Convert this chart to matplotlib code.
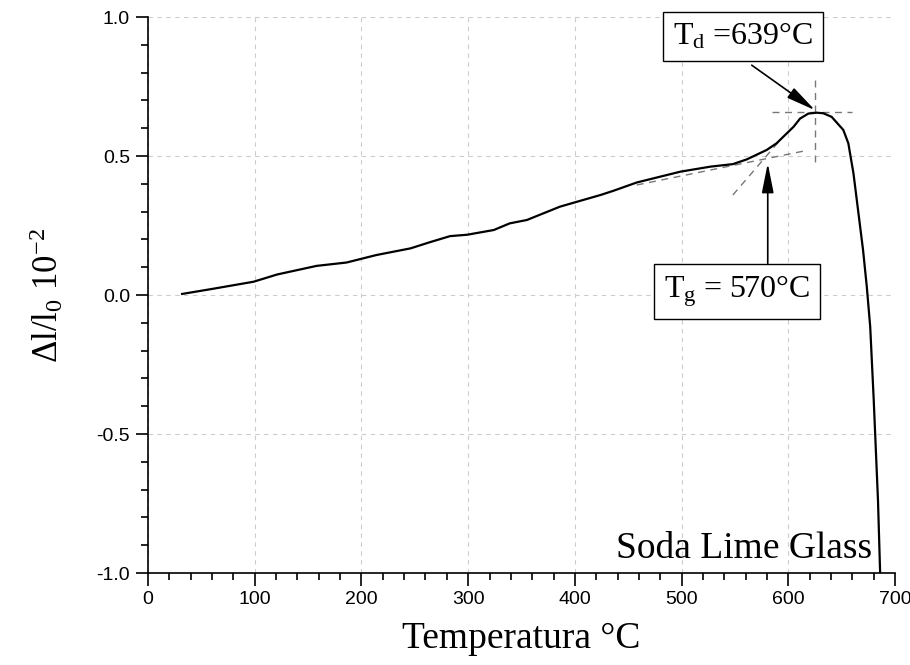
import matplotlib
matplotlib.use("Agg")
import matplotlib.pyplot as plt
from matplotlib.ticker import MultipleLocator

plt.rcParams["mathtext.fontset"] = "custom"
plt.rcParams["mathtext.rm"] = "Liberation Serif"
plt.rcParams["mathtext.it"] = "Liberation Serif:italic"

# dilatometric curve
temp = [32, 60, 99, 121, 158, 186, 214, 246, 264, 283, 299, 324, 339, 355,
        386, 424, 436, 458, 480, 499, 527, 548, 561, 579.7, 589, 597, 604.8,
        611, 618.8, 626.6, 632.8, 640.6, 645, 651.5, 656.2, 661, 665.7, 670,
        673.5, 676.7, 680, 684, 686]
dl = [0.004, 0.022, 0.048, 0.074, 0.105, 0.117, 0.144, 0.168, 0.19, 0.212,
      0.217, 0.234, 0.258, 0.27, 0.318, 0.36, 0.375, 0.405, 0.426, 0.444,
      0.462, 0.471, 0.488, 0.522, 0.546, 0.576, 0.605, 0.635, 0.653, 0.656,
      0.654, 0.641, 0.622, 0.594, 0.546, 0.438, 0.294, 0.162, 0.03, -0.114,
      -0.378, -0.74, -1.0]

# construction lines
tan1_x = [458, 617]
tan1_y = [0.396, 0.52]
tan2_x = [548, 590.8]
tan2_y = [0.36, 0.551]
peak_vx = [625.1, 625.1]
peak_vy = [0.773, 0.474]
peak_hx = [584.5, 659.5]
peak_hy = [0.659, 0.659]

serif = "Liberation Serif"

fig = plt.figure(figsize=(9.1, 6.65), dpi=100)
ax = fig.add_axes([0.1626, 0.1383, 0.821, 0.836])

ax.grid(True, which="major", color="#cccccc", linestyle=(0, (4, 4)), linewidth=0.8)
ax.set_axisbelow(True)

dash = dict(color="#777777", linestyle=(0, (5, 4)), linewidth=1.0)
ax.plot(tan1_x, tan1_y, **dash)
ax.plot(tan2_x, tan2_y, **dash)
ax.plot(peak_vx, peak_vy, **dash)
ax.plot(peak_hx, peak_hy, **dash)

ax.plot(temp, dl, color="black", linewidth=1.6)

ax.set_xlim(0, 700)
ax.set_ylim(-1.0, 1.0)
ax.xaxis.set_major_locator(MultipleLocator(100))
ax.xaxis.set_minor_locator(MultipleLocator(20))
ax.set_yticks([-1.0, -0.5, 0.0, 0.5, 1.0])
ax.set_yticklabels(["-1.0", "-0.5", "0.0", "0.5", "1.0"])
ax.yaxis.set_minor_locator(MultipleLocator(0.1))

for s in ("top", "right"):
    ax.spines[s].set_visible(False)
ax.spines["left"].set_linewidth(1.2)
ax.spines["bottom"].set_linewidth(1.2)
ax.tick_params(axis="both", which="major", direction="out", length=9, width=1.2,
               labelsize=14, pad=4)
ax.tick_params(axis="both", which="minor", direction="out", length=5, width=1.2)
for lab in ax.get_xticklabels() + ax.get_yticklabels():
    lab.set_family("Liberation Sans")

ax.set_xlabel("Temperatura °C", fontsize=27, family=serif, labelpad=10)
ax.set_ylabel(r"$\Delta$l/l$_0$ 10$^{-2}$", fontsize=25, family=serif, labelpad=22)

box = dict(boxstyle="square,pad=0.3", facecolor="white", edgecolor="black", linewidth=1.0)
arrow = dict(arrowstyle="-|>,head_length=0.9,head_width=0.18", color="black",
             linewidth=1.2, mutation_scale=20, shrinkA=0, shrinkB=0)

ax.text(557.6, 0.93, r"T$_\mathrm{d}$ =639°C", fontsize=23, family=serif,
        ha="center", va="center", bbox=box)
ax.annotate("", xy=(625, 0.665), xytext=(565.7, 0.827), arrowprops=arrow)

ax.text(552, 0.013, r"T$_\mathrm{g}$ = 570°C", fontsize=23, family=serif,
        ha="center", va="center", bbox=box)
ax.annotate("", xy=(580.7, 0.474), xytext=(580.7, 0.114), arrowprops=arrow)

ax.text(0.969, 0.027, "Soda Lime Glass", transform=ax.transAxes, fontsize=27,
        family=serif, ha="right", va="baseline")

fig.savefig("out.png", dpi=100)
plt.close(fig)
